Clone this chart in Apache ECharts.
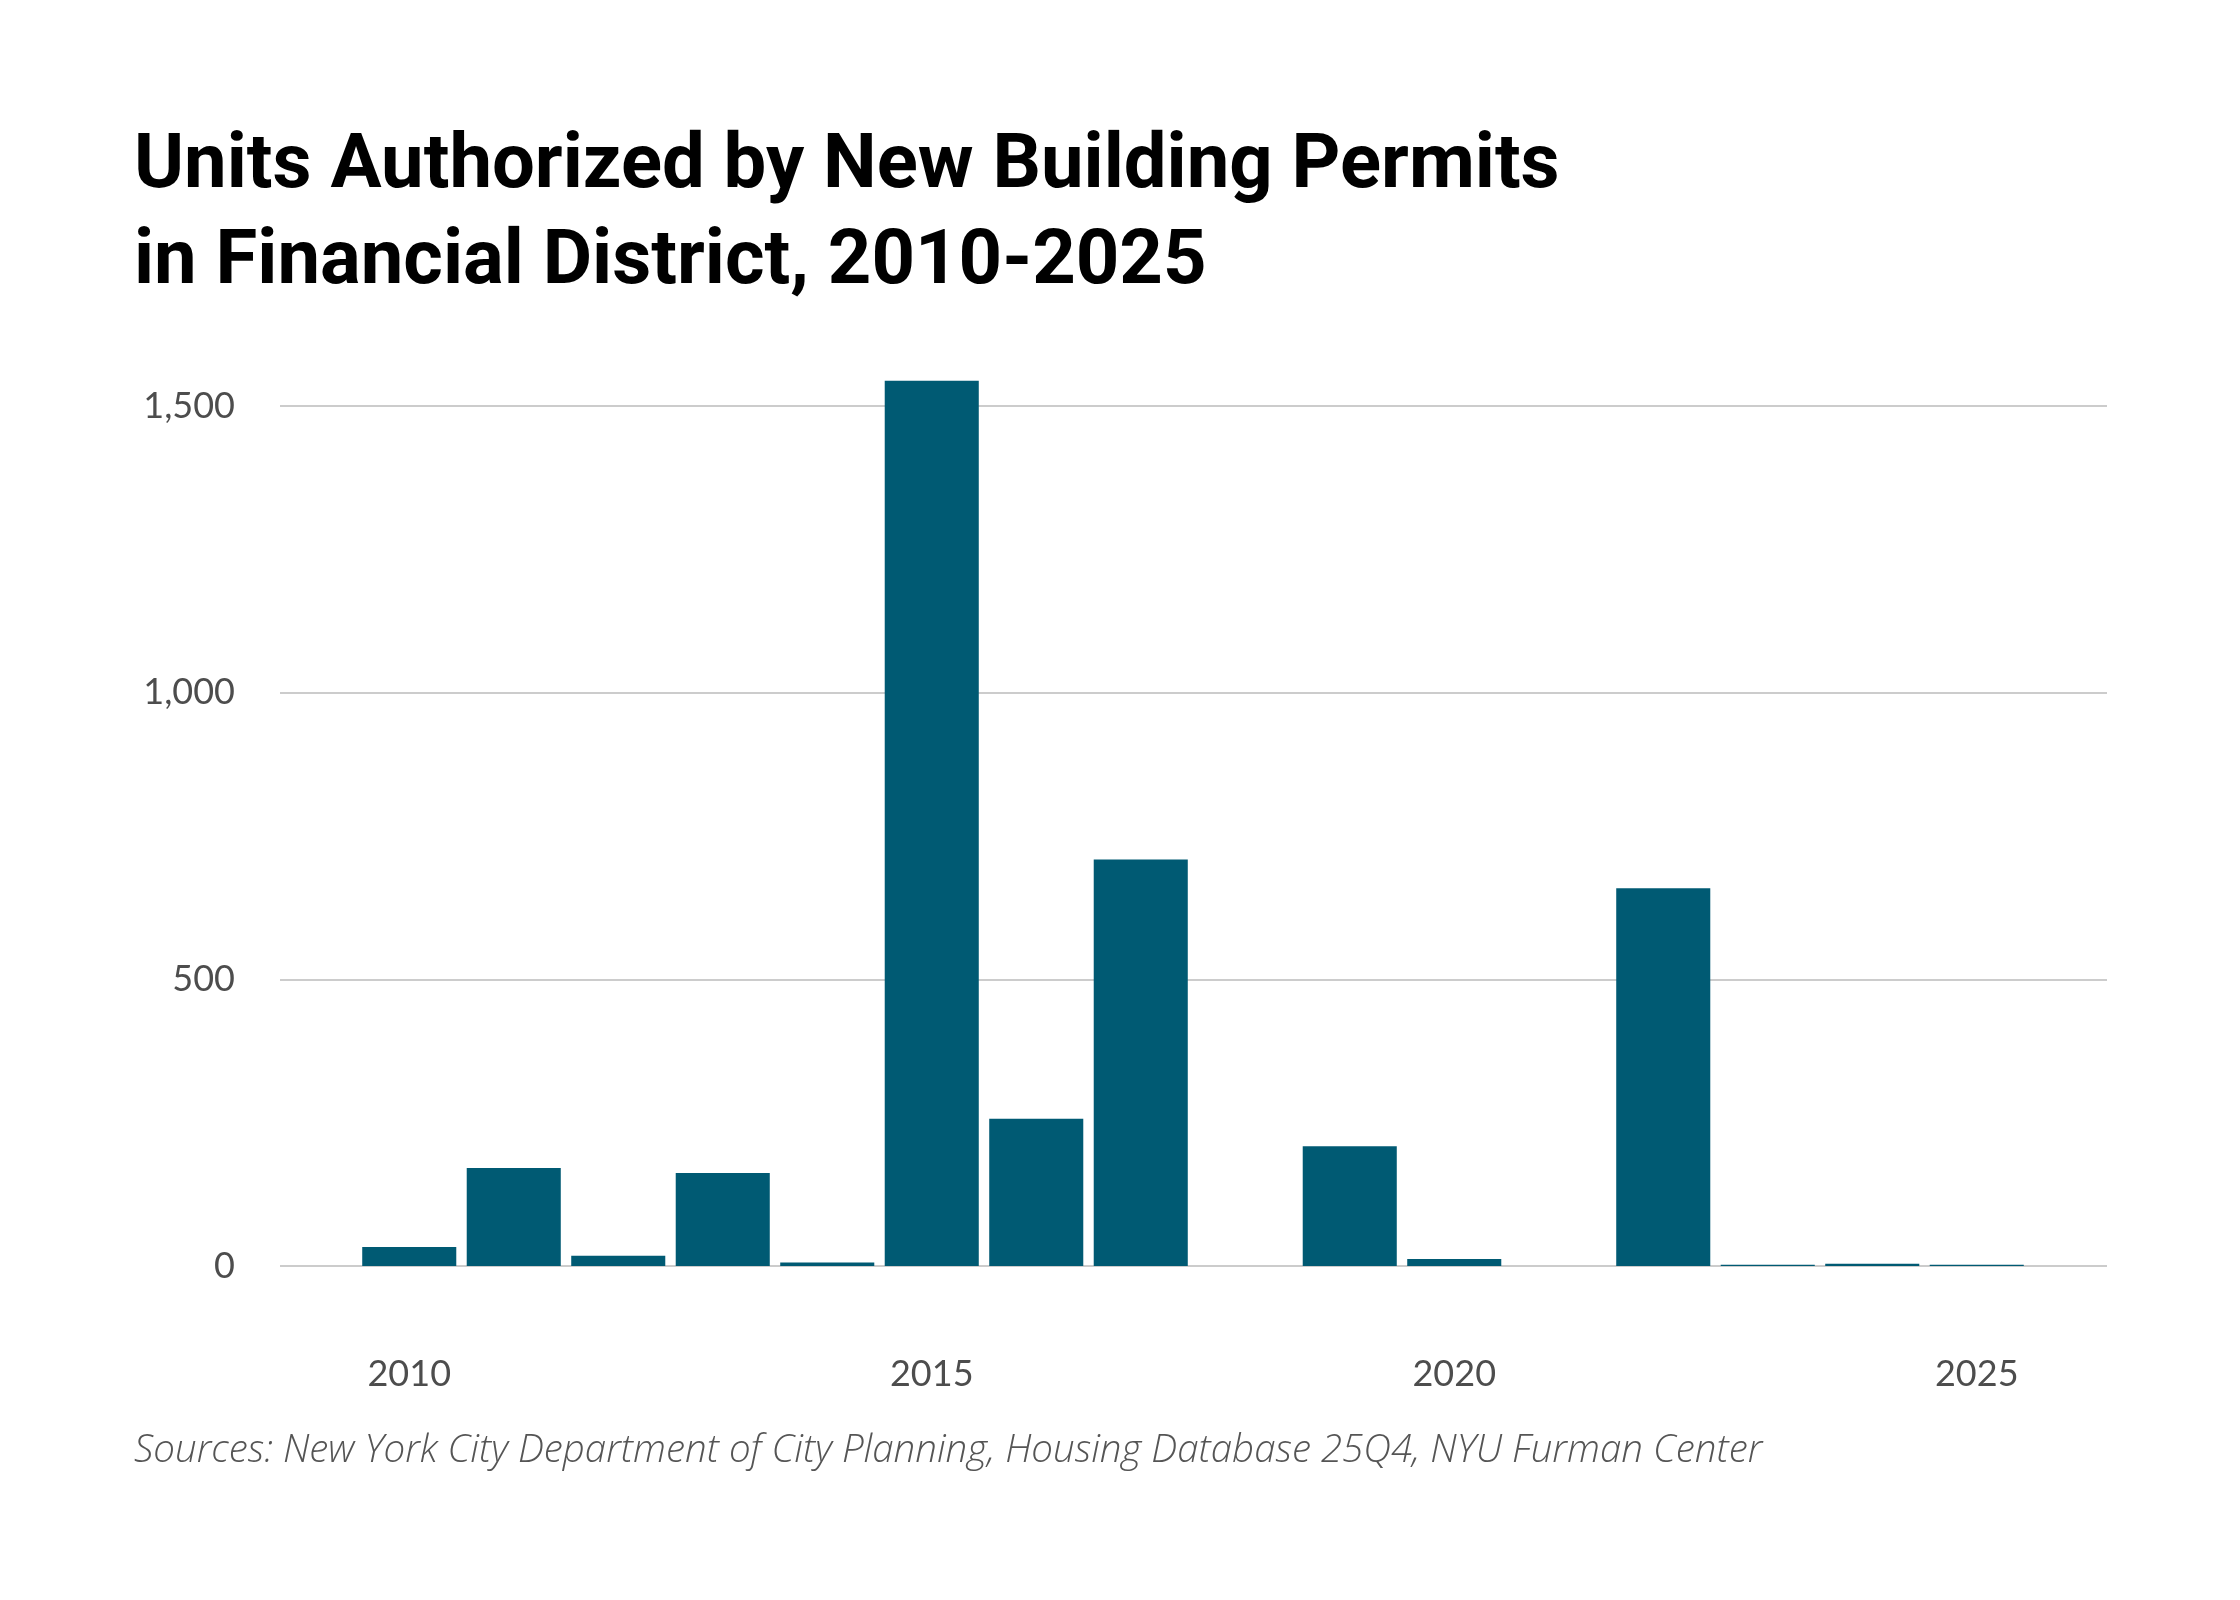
<!DOCTYPE html>
<html>
<head>
<meta charset="utf-8">
<script src="https://cdn.jsdelivr.net/npm/echarts@6/dist/echarts.min.js"></script>
<style>
html,body{margin:0;padding:0;background:#fff;}
#chart{width:2240px;height:1600px;}
</style>
</head>
<body>
<div id="chart"></div>
<script>
const years = ['2010','2011','2012','2013','2014','2015','2016','2017','2018','2019','2020','2021','2022','2023','2024','2025'];
const units = [33, 171, 18, 162, 6, 1544, 257, 709, 0, 209, 12, 0, 659, 2, 4, 2];
const yTicks = [0, 500, 1000, 1500];
const titleText = 'Units Authorized by New Building Permits\nin Financial District, 2010-2025';
const sourceText = 'Sources: New York City Department of City Planning, Housing Database 25Q4, NYU Furman Center';

const chart = echarts.init(document.getElementById('chart'));
const gridTop = 406, gridBottom = 334;
chart.setOption({
  backgroundColor: '#ffffff',
  animation: false,
  title: {
    text: titleText,
    left: 129,
    top: 115,
    textStyle: {
      fontFamily: 'Roboto',
      fontWeight: 'bold',
      fontSize: 76,
      lineHeight: 96,
      color: '#000000'
    }
  },
  graphic: [{
    type: 'text',
    left: 134,
    top: 1432,
    style: {
      text: sourceText,
      font: 'italic 300 38.5px "Open Sans"',
      fill: '#555555'
    }
  }],
  grid: [
    { left: 280, right: 133, top: gridTop, bottom: gridBottom },
    { left: 357, right: 211, top: gridTop, bottom: gridBottom }
  ],
  xAxis: [
    { type: 'category', gridIndex: 0, data: years, show: false },
    {
      type: 'category', gridIndex: 1, data: years, boundaryGap: true,
      axisLine: { show: false }, axisTick: { show: false },
      axisLabel: {
        interval: function (i) { return i % 5 === 0; },
        margin: 90,
        fontFamily: 'Lato',
        fontSize: 36,
        color: '#4d4d4d'
      }
    }
  ],
  yAxis: [
    {
      type: 'value', gridIndex: 0, min: 0, max: 1500, interval: 500,
      axisLine: { show: false }, axisTick: { show: false },
      splitLine: { show: true, lineStyle: { color: '#cccccc', width: 2 } },
      axisLabel: {
        margin: 45,
        fontFamily: 'Lato',
        fontSize: 36,
        color: '#4d4d4d',
        formatter: function (v) { return yTicks.indexOf(v) >= 0 ? v.toLocaleString('en-US') : ''; }
      }
    },
    {
      type: 'value', gridIndex: 1, min: 0, max: 1500, interval: 500, show: false,
      splitLine: { show: false }
    }
  ],
  series: [{
    type: 'bar',
    xAxisIndex: 1,
    yAxisIndex: 1,
    data: units,
    clip: false,
    barCategoryGap: '10%',
    itemStyle: { color: '#005a73' }
  }]
});
</script>
</body>
</html>
